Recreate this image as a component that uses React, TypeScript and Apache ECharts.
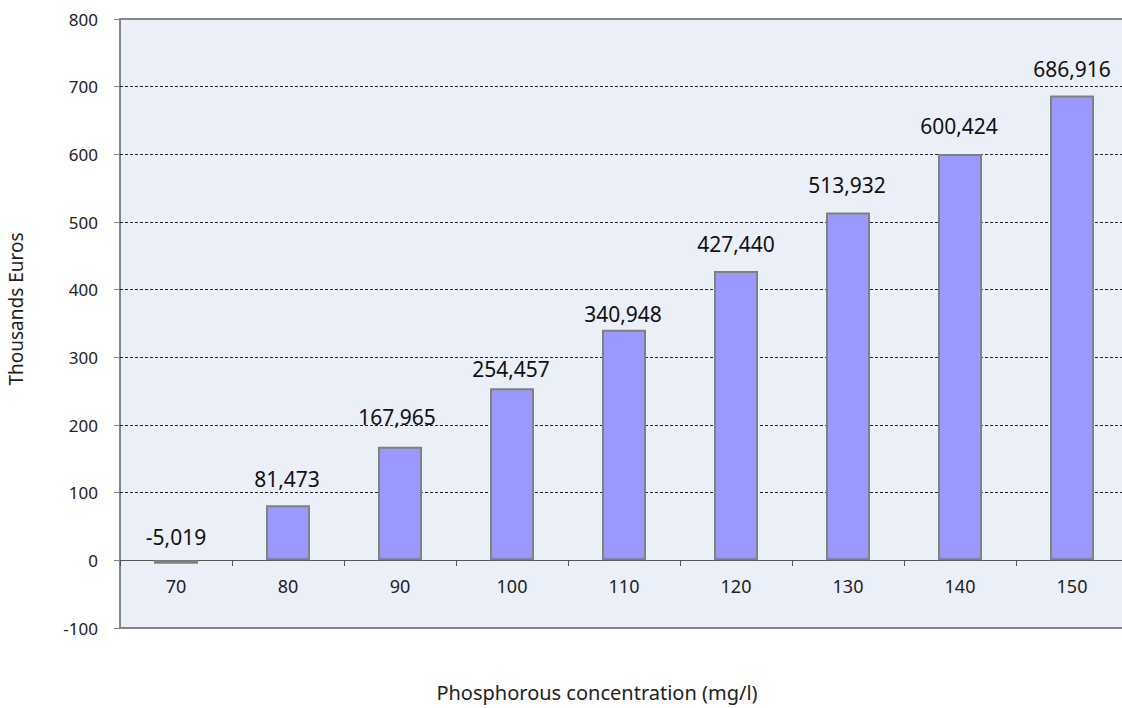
import React, { useEffect, useRef } from "react";
import * as echarts from "echarts";

const categories = ["70", "80", "90", "100", "110", "120", "130", "140", "150"];
const values = [-5.019, 81.473, 167.965, 254.457, 340.948, 427.44, 513.932, 600.424, 686.916];
const yMin = -100;
const yMax = 800;
const yInterval = 100;
const yAxisName = "Thousands Euros";
const xAxisName = "Phosphorous concentration (mg/l)";

// label placement (pixels above bar end), as laid out in the reference
const labelGaps = [12.5, 15.5, 19.5, 8.2, 5.2, 16.8, 16.9, 17.2, 15.8];
const labelShiftX = [0, -1, -3, -1, -1, 0, -1, -1, 0];

const FONT = "'Noto Sans', 'Open Sans', sans-serif";

export default function App() {
  const ref = useRef<HTMLDivElement>(null);
  useEffect(() => {
    if (!ref.current) return;
    const chart = echarts.init(ref.current, undefined, { renderer: "svg" });
    const seriesData = values.map((v, i) => ({
      value: v,
      label: { distance: labelGaps[i], offset: [labelShiftX[i], 0] },
    }));
    chart.setOption({
      animation: false,
      backgroundColor: "#ffffff",
      textStyle: { fontFamily: FONT },
      grid: {
        left: 120,
        top: 19,
        right: 2,
        bottom: 80,
        show: true,
        backgroundColor: "#ebeff7",
        borderColor: "#858585",
        borderWidth: 2,
      },
      xAxis: {
        type: "category",
        data: categories,
        boundaryGap: true,
        offset: -68,
        axisLine: { show: true, onZero: false, lineStyle: { color: "#555555", width: 1 } },
        axisTick: { show: true, length: 6, lineStyle: { color: "#555555" } },
        axisLabel: { color: "#222", fontSize: 18, margin: 17, fontFamily: FONT },
        splitLine: { show: false },
      },
      yAxis: {
        type: "value",
        min: yMin,
        max: yMax,
        interval: yInterval,
        axisLine: { show: false },
        axisTick: { show: true, length: 6, lineStyle: { color: "#858585" } },
        axisLabel: { color: "#222", fontSize: 17, margin: 22, fontFamily: FONT },
        splitLine: {
          show: true,
          showMinLine: false,
          showMaxLine: false,
          lineStyle: { color: "#222", type: [3, 2], width: 1 },
        },
      },
      graphic: [
        {
          type: "text",
          x: 597,
          y: 692,
          style: {
            text: xAxisName,
            fill: "#222",
            font: `20px ${FONT}`,
            textAlign: "center",
            textVerticalAlign: "middle",
          },
        },
        {
          type: "text",
          x: 16,
          y: 309,
          rotation: Math.PI / 2,
          style: {
            text: yAxisName,
            fill: "#222",
            font: `19px ${FONT}`,
            textAlign: "center",
            textVerticalAlign: "middle",
          },
        },
      ],
      series: [
        {
          type: "bar",
          data: seriesData,
          barWidth: 44,
          itemStyle: { color: "#9999ff", borderColor: "#808080", borderWidth: 2 },
          label: {
            show: true,
            position: "top",
            distance: 5,
            color: "#111",
            fontSize: 21,
            fontFamily: FONT,
            formatter: (p: any) => Math.round(p.value * 1000).toLocaleString("en-US"),
          },
        },
      ],
    });
    return () => chart.dispose();
  }, []);
  return (
    <div style={{ position: "absolute", left: 0, top: 0, width: 1122, height: 708, overflow: "hidden" }}>
      <div ref={ref} style={{ width: 1130, height: 708 }} />
    </div>
  );
}
